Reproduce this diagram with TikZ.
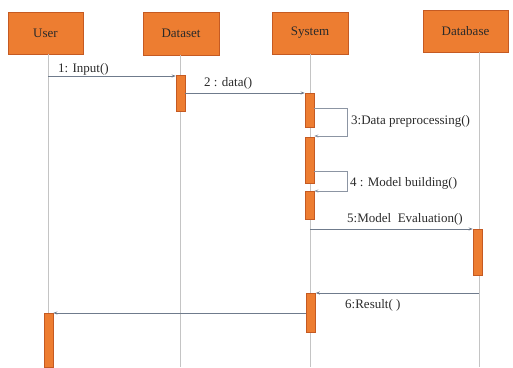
\documentclass[tikz,border=0pt]{standalone}
\usepackage{fontspec}
\setmainfont{Liberation Serif}
\usetikzlibrary{arrows.meta}
\definecolor{boxor}{HTML}{ED7D31}
\definecolor{boxbd}{HTML}{C55A22}
\definecolor{life}{HTML}{C4C4C4}
\definecolor{msg}{HTML}{6F7B8C}
\definecolor{txt}{HTML}{2A2A2A}
\begin{document}
\begin{tikzpicture}[x=1pt,y=-1pt,
  head/.style={draw=boxbd, fill=boxor, line width=0.8pt, inner sep=0pt, text=txt, font=\fontsize{13}{15}\selectfont},
  actbox/.style={draw=boxbd, fill=boxor, line width=0.5pt, minimum width=9pt, inner sep=0pt},
  lifeline/.style={draw=life, line width=0.8pt},
  msgline/.style={draw=msg, line width=0.7pt, -{Stealth[length=4pt,width=3pt]}},
  selfline/.style={draw=msg!80, line width=0.7pt, -{Stealth[length=4pt,width=3pt]}},
  lbl/.style={font=\fontsize{13}{15}\selectfont, inner sep=0pt, anchor=base west, text=txt}]
\useasboundingbox (0,0) rectangle (513,367);
% heads
\node[head, minimum width=75pt, minimum height=42pt] (user) at (45.5,33) {User};
\node[head, minimum width=76pt, minimum height=43pt] (dataset) at (181,33.5) {Dataset};
\node[head, minimum width=76pt, minimum height=42pt] (system) at (310,33) {System};
\node[head, minimum width=85pt, minimum height=42pt] (database) at (465.5,31) {Database};
% lifelines
\coordinate (ut) at (48,54);   \coordinate (ub) at (48,367);
\coordinate (dt) at (180,55);  \coordinate (db) at (180,367);
\coordinate (st) at (310,54);  \coordinate (sb) at (310,367);
\coordinate (bt) at (479,52);  \coordinate (bb) at (479,367);
\draw[lifeline] (ut) -- (ub);
\draw[lifeline] (dt) -- (db);
\draw[lifeline] (st) -- (sb);
\draw[lifeline] (bt) -- (bb);
% activations
\node[actbox, minimum height=36pt] (d1) at (180.5,93) {};
\node[actbox, minimum height=34pt] (s1) at (309.5,110) {};
\node[actbox, minimum height=46pt] (s2) at (309.5,160) {};
\node[actbox, minimum height=28pt] (s3) at (309.5,205) {};
\node[actbox, minimum height=46pt] (b1) at (477.5,252) {};
\node[actbox, minimum height=39pt] (s4) at (311,312.5) {};
\node[actbox, minimum height=54pt] (u1) at (48.5,340) {};
% messages
\draw[msgline] (ut |- 0,76) -- (d1.west |- 0,76);
\node[lbl] (l1) at (58,72) {1: Input()};
\draw[msgline] (d1.east |- 0,93) -- (s1.west |- 0,93);
\node[lbl] (l2) at (204,86) {2 : data()};
\coordinate (c3a) at (347,108);
\coordinate (c3b) at (347,136);
\draw[selfline] (s1.east |- 0,108) -- (c3a) -- (c3b) -- (s1.east |- 0,136);
\node[lbl] (l3) at (351,124) {3:Data preprocessing()};
\coordinate (c4a) at (347,171);
\coordinate (c4b) at (347,191);
\draw[selfline] (s2.east |- 0,171) -- (c4a) -- (c4b) -- (s3.east |- 0,191);
\node[lbl] (l4) at (350,186) {4 : Model building()};
\draw[msgline] (st |- 0,229) -- (b1.west |- 0,229);
\node[lbl] (l5) at (347,222) {5:Model\ \ Evaluation()};
\draw[msgline] (bt |- 0,293) -- (s4.east |- 0,293);
\node[lbl] (l6) at (345,308) {6:Result( )};
\draw[msgline] (s4.west |- 0,313) -- (u1.east |- 0,313);
\end{tikzpicture}
\end{document}
